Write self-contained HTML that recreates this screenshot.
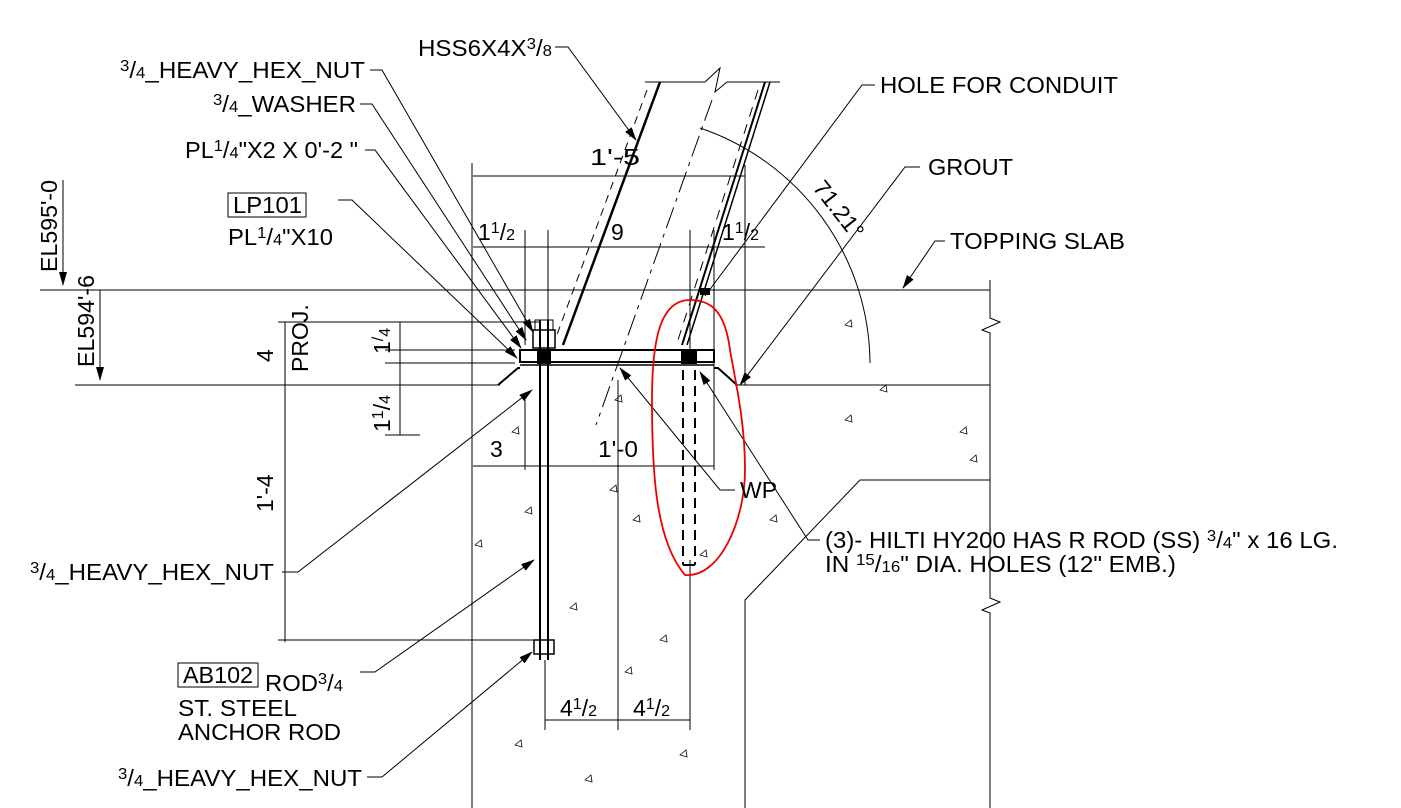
<!DOCTYPE html>
<html><head><style>
html,body{margin:0;padding:0;background:#fff;}
svg{display:block;}
text{font-family:"Liberation Sans",Arial,sans-serif;fill:#000;}
</style></head><body>
<svg width="1401" height="808" viewBox="0 0 1401 808" xmlns="http://www.w3.org/2000/svg">
<defs>
<marker id="a" markerWidth="14" markerHeight="8" refX="13" refY="4" orient="auto" markerUnits="userSpaceOnUse"><path d="M0,0 L14,4 L0,8 z" fill="#000"/></marker>
</defs>
<g stroke="#000" fill="none" stroke-width="1">
<line x1="40" y1="290" x2="990" y2="290"/>
<line x1="75" y1="385" x2="500" y2="385"/>
<line x1="735" y1="385" x2="990" y2="385"/>
<line x1="63" y1="180" x2="63" y2="285" marker-end="url(#a)"/>
<line x1="100" y1="290" x2="100" y2="380" marker-end="url(#a)"/>
<line x1="472" y1="163" x2="472" y2="808"/>
<polyline points="990,280 990,318 1000,322 982,330 990,333 990,598 1000,602 982,610 990,613 990,808"/>
<polyline points="990,480 860,480 745,600 745,808"/>
<line x1="745" y1="290" x2="745" y2="385"/>
<line x1="660" y1="82" x2="563" y2="345" stroke-width="2.5"/>
<line x1="765" y1="82" x2="682" y2="345" stroke-width="2"/>
<line x1="770" y1="82" x2="687" y2="345" stroke-width="1.5"/>
<line x1="645" y1="82" x2="705" y2="82"/>
<polyline points="705,82 720,68 715,92 727,82 780,82"/>
<line x1="647" y1="90" x2="555" y2="340" stroke-dasharray="8,6"/>
<line x1="758" y1="90" x2="678" y2="340" stroke-dasharray="10,8"/>
<line x1="712" y1="100" x2="596" y2="425" stroke-dasharray="22,6,4,6"/>
<path d="M700,128 A250,250 0 0 1 870,363"/>
<line x1="473" y1="176" x2="745" y2="176"/>
<line x1="473" y1="247" x2="765" y2="247"/>
<line x1="548" y1="230" x2="548" y2="360"/>
<line x1="525" y1="230" x2="525" y2="345"/>
<line x1="690" y1="230" x2="690" y2="350"/>
<line x1="714" y1="230" x2="714" y2="470"/>
<line x1="745" y1="165" x2="745" y2="290"/>
<line x1="473" y1="466" x2="714" y2="466"/>
<line x1="525" y1="400" x2="525" y2="470"/>
<line x1="545" y1="720" x2="690" y2="720"/>
<line x1="545" y1="660" x2="545" y2="730"/>
<line x1="618" y1="380" x2="618" y2="730"/>
<line x1="690" y1="560" x2="690" y2="730"/>
<line x1="285" y1="322" x2="285" y2="642"/>
<line x1="278" y1="322" x2="540" y2="322"/>
<line x1="278" y1="640" x2="540" y2="640"/>
<line x1="400" y1="322" x2="400" y2="435"/>
<line x1="385" y1="350" x2="515" y2="350"/>
<line x1="385" y1="363" x2="515" y2="363"/>
<line x1="385" y1="435" x2="420" y2="435"/>
<rect x="520" y="350" width="194" height="12" stroke-width="2"/>
<line x1="520" y1="365" x2="714" y2="365" stroke-width="1.5"/>
<polyline points="498,385 518,368 520,368" stroke-width="2"/>
<polyline points="714,368 718,368 737,385" stroke-width="2"/>
<line x1="540" y1="320" x2="540" y2="660" stroke-width="2"/>
<line x1="548" y1="320" x2="548" y2="660" stroke-width="2"/>
<rect x="533" y="330" width="22" height="18" stroke-width="1.5"/>
<rect x="535" y="320" width="18" height="10"/>
<rect x="534" y="640" width="20" height="14" stroke-width="1.5"/>
<line x1="683" y1="370" x2="683" y2="565" stroke-width="2" stroke-dasharray="10,6"/>
<line x1="695" y1="370" x2="695" y2="565" stroke-width="2" stroke-dasharray="10,6"/>
<line x1="683" y1="565" x2="695" y2="565" stroke-width="2"/>
<polyline points="370,70 382,70 533,332" marker-end="url(#a)"/>
<polyline points="360,104 372,104 526,340" marker-end="url(#a)"/>
<polyline points="365,150 375,150 521,348" marker-end="url(#a)"/>
<polyline points="338,200 352,200 517,358" marker-end="url(#a)"/>
<polyline points="555,47 568,47 636,140" marker-end="url(#a)"/>
<polyline points="875,85 862,85 705,296"/>
<polyline points="920,167 905,167 740,385" marker-end="url(#a)"/>
<polyline points="945,241 935,241 903,288" marker-end="url(#a)"/>
<polyline points="282,572 298,572 532,390" marker-end="url(#a)"/>
<polyline points="360,672 375,672 534,560" marker-end="url(#a)"/>
<polyline points="367,777 382,777 532,652" marker-end="url(#a)"/>
<polyline points="735,490 720,490 620,368" marker-end="url(#a)"/>
<polyline points="820,540 808,540 700,372" marker-end="url(#a)"/>
<rect x="228" y="193" width="78" height="24"/>
<rect x="178" y="663" width="80" height="24"/>
</g>
<rect x="537" y="350" width="14" height="14" fill="#000"/>
<rect x="681" y="351" width="16" height="13" fill="#000"/>
<rect x="700" y="288" width="10" height="7" fill="#000"/>
<path d="M690,300 C660,300 652,340 652,400 C652,470 655,540 685,575 C720,578 745,520 745,470 C745,420 735,380 730,350 C725,310 710,300 690,300 Z" fill="none" stroke="#e00" stroke-width="1.8"/>
<g fill="none" stroke="#000" stroke-width="0.8">
<path d="M512,432 l6,-5 l1,7z M610,490 l6,-5 l1,7z M633,520 l6,-5 l1,7z M700,555 l6,-5 l1,7z M525,512 l6,-5 l1,7z M570,608 l6,-5 l1,7z M660,640 l6,-5 l1,7z M625,672 l6,-5 l1,7z M515,745 l6,-5 l1,7z M585,780 l6,-5 l1,7z M845,420 l6,-5 l1,7z M960,432 l6,-5 l1,7z M970,460 l6,-5 l1,7z M770,520 l6,-5 l1,7z M475,545 l6,-5 l1,7z M680,755 l6,-5 l1,7z M845,325 l6,-5 l1,7z M880,390 l6,-5 l1,7z M615,400 l6,-5 l1,7z"/>
</g>
<g font-size="23">
<text x="120" y="78" textLength="245" lengthAdjust="spacingAndGlyphs"><tspan font-size="16" dy="-7">3</tspan><tspan dy="7">/</tspan><tspan font-size="16">4</tspan>_HEAVY_HEX_NUT</text>
<text x="213" y="112" textLength="143" lengthAdjust="spacingAndGlyphs"><tspan font-size="16" dy="-7">3</tspan><tspan dy="7">/</tspan><tspan font-size="16">4</tspan>_WASHER</text>
<text x="185" y="158" textLength="173" lengthAdjust="spacingAndGlyphs">PL<tspan font-size="16" dy="-7">1</tspan><tspan dy="7">/</tspan><tspan font-size="16">4</tspan>"X2 X 0'-2 "</text>
<text x="233" y="213" textLength="69" lengthAdjust="spacingAndGlyphs">LP101</text>
<text x="228" y="245" textLength="105" lengthAdjust="spacingAndGlyphs">PL<tspan font-size="16" dy="-7">1</tspan><tspan dy="7">/</tspan><tspan font-size="16">4</tspan>"X10</text>
<text x="418" y="56" textLength="134" lengthAdjust="spacingAndGlyphs">HSS6X4X<tspan font-size="16" dy="-7">3</tspan><tspan dy="7">/</tspan><tspan font-size="16">8</tspan></text>
<text x="880" y="93" textLength="238" lengthAdjust="spacingAndGlyphs">HOLE FOR CONDUIT</text>
<text x="928" y="175" textLength="85" lengthAdjust="spacingAndGlyphs">GROUT</text>
<text x="950" y="249" textLength="175" lengthAdjust="spacingAndGlyphs">TOPPING SLAB</text>
<text x="590" y="165" textLength="50" lengthAdjust="spacingAndGlyphs">1'-5</text>
<text x="478" y="240">1<tspan font-size="16" dy="-7">1</tspan><tspan dy="7">/</tspan><tspan font-size="16">2</tspan></text>
<text x="611" y="240">9</text>
<text x="722" y="240">1<tspan font-size="16" dy="-7">1</tspan><tspan dy="7">/</tspan><tspan font-size="16">2</tspan></text>
<text x="490" y="457">3</text>
<text x="598" y="457" textLength="40" lengthAdjust="spacingAndGlyphs">1'-0</text>
<text x="740" y="498">WP</text>
<text x="825" y="548" textLength="513" lengthAdjust="spacingAndGlyphs">(3)- HILTI HY200 HAS R ROD (SS) <tspan font-size="16" dy="-7">3</tspan><tspan dy="7">/</tspan><tspan font-size="16">4</tspan>" x 16 LG.</text>
<text x="825" y="572" textLength="351" lengthAdjust="spacingAndGlyphs">IN <tspan font-size="16" dy="-7">15</tspan><tspan dy="7">/</tspan><tspan font-size="16">16</tspan>" DIA. HOLES (12" EMB.)</text>
<text x="30" y="580" textLength="244" lengthAdjust="spacingAndGlyphs"><tspan font-size="16" dy="-7">3</tspan><tspan dy="7">/</tspan><tspan font-size="16">4</tspan>_HEAVY_HEX_NUT</text>
<text x="183" y="683" textLength="70" lengthAdjust="spacingAndGlyphs">AB102</text>
<text x="265" y="691" textLength="78" lengthAdjust="spacingAndGlyphs">ROD<tspan font-size="16" dy="-7">3</tspan><tspan dy="7">/</tspan><tspan font-size="16">4</tspan></text>
<text x="178" y="716" textLength="119" lengthAdjust="spacingAndGlyphs">ST. STEEL</text>
<text x="178" y="740" textLength="163" lengthAdjust="spacingAndGlyphs">ANCHOR ROD</text>
<text x="118" y="786" textLength="244" lengthAdjust="spacingAndGlyphs"><tspan font-size="16" dy="-7">3</tspan><tspan dy="7">/</tspan><tspan font-size="16">4</tspan>_HEAVY_HEX_NUT</text>
<text x="560" y="716">4<tspan font-size="16" dy="-7">1</tspan><tspan dy="7">/</tspan><tspan font-size="16">2</tspan></text>
<text x="633" y="716">4<tspan font-size="16" dy="-7">1</tspan><tspan dy="7">/</tspan><tspan font-size="16">2</tspan></text>
<text transform="translate(812,188) rotate(52)">71.21°</text>
<text transform="translate(57,272) rotate(-90)" textLength="92" lengthAdjust="spacingAndGlyphs">EL595'-0</text>
<text transform="translate(94,367) rotate(-90)" textLength="92" lengthAdjust="spacingAndGlyphs">EL594'-6</text>
<text transform="translate(273,362) rotate(-90)">4</text>
<text transform="translate(308,372) rotate(-90)">PROJ.</text>
<text transform="translate(390,354) rotate(-90)">1<tspan font-size="16" dy="-7">/</tspan><tspan dy="7" font-size="16">4</tspan></text>
<text transform="translate(390,432) rotate(-90)">1<tspan font-size="16" dy="-7">1</tspan><tspan dy="7">/</tspan><tspan font-size="16">4</tspan></text>
<text transform="translate(273,512) rotate(-90)">1'-4</text>
</g>
</svg>
</body></html>
